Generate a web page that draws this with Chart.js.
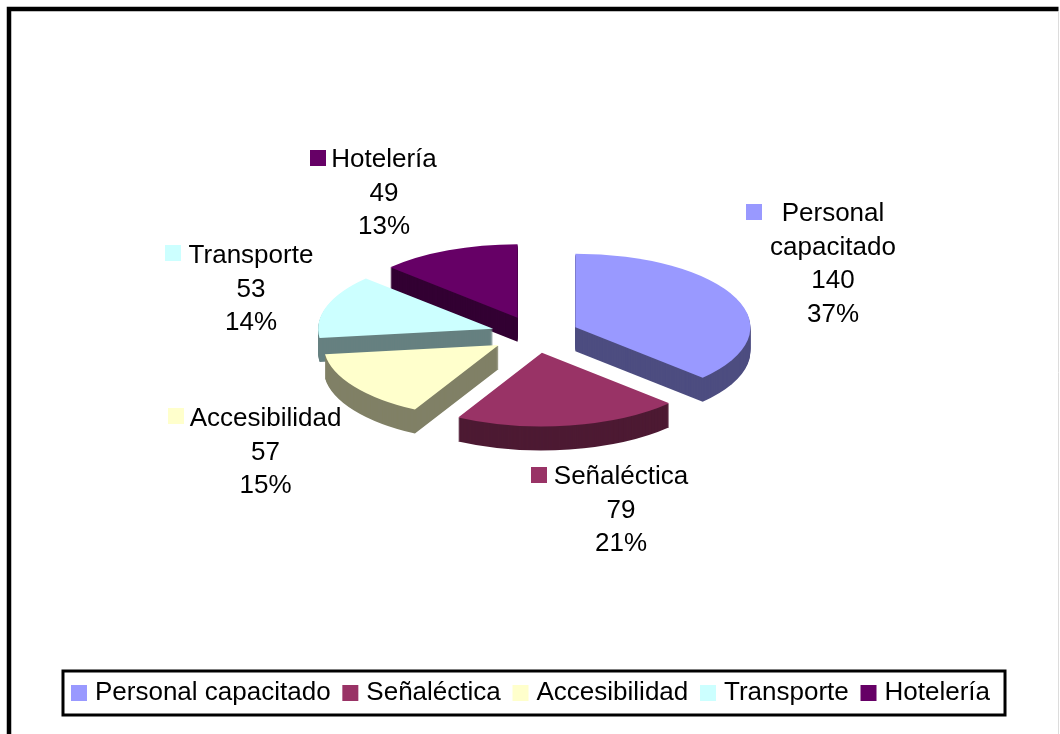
<!DOCTYPE html>
<html><head><meta charset="utf-8">
<style>html,body{margin:0;padding:0;background:#fff}canvas{display:block}</style>
<script src="https://cdn.jsdelivr.net/npm/chart.js@4"></script></head>
<body><canvas id="c" width="1060" height="734"></canvas>
<script>
const categories = ['Personal capacitado','Señaléctica','Accesibilidad','Transporte','Hotelería'];
const values = [140,79,57,53,49];
const percents = ['37%','21%','15%','14%','13%'];
const topColors = ['#9999FF','#993366','#FFFFCC','#CCFFFF','#660066'];
const sideColors = ['#4D4D80','#4D1A33','#808066','#668080','#330033'];
const labelLines = [['Personal','capacitado'],['Señaléctica'],['Accesibilidad'],['Transporte'],['Hotelería']];

const FONT = '"Liberation Sans", Arial, sans-serif';
const tilt = 0.42, depth = 24, pieCenterX = 535, pieCenterY = 334.6, explode = 44, lineH = 33.5;
const drawOrder = [4,0,3,2,1];
// label block layout: centre x, first-line y, key left x, key top y
const labelLayout = [
  {cx:833,y:214,kx:746,ky:204},
  {cx:621,y:477,kx:531,ky:467},
  {cx:265.5,y:419,kx:168,ky:408},
  {cx:251,y:256,kx:165,ky:245},
  {cx:384,y:160,kx:310,ky:150}
];

const tiltedPie = {
  id:'tiltedPie',
  beforeDatasetsDraw(chart){
    const ctx = chart.ctx, arcs = chart.getDatasetMeta(0).data;
    const paint = (el, color, shift) => {
      const saved = el.options;
      const half = (el.startAngle + el.endAngle) / 2;
      el.options = Object.assign({}, saved, {backgroundColor:color, borderWidth:0});
      ctx.save();
      ctx.translate(pieCenterX - el.x, pieCenterY + shift);
      ctx.scale(1, tilt);
      ctx.translate(0, -el.y);
      ctx.translate(el.x, el.y);
      ctx.translate(Math.cos(half)*explode, Math.sin(half)*explode);
      ctx.translate(-el.x, -el.y);
      el.draw(ctx);
      ctx.restore();
      el.options = saved;
    };
    drawOrder.forEach(i => {
      for (let d = depth; d >= 1; d--) paint(arcs[i], sideColors[i], d);
      paint(arcs[i], topColors[i], 0);
    });
    return false;
  },
  afterDraw(chart){
    const ctx = chart.ctx;
    ctx.save();
    // data labels
    ctx.fillStyle = '#000';
    ctx.font = '26px ' + FONT;
    ctx.textAlign = 'center';
    ctx.textBaseline = 'middle';
    categories.forEach((c,i) => {
      const L = labelLayout[i];
      const lines = labelLines[i].concat([String(values[i]), percents[i]]);
      lines.forEach((t,k) => ctx.fillText(t, L.cx, L.y + k*lineH));
      ctx.fillStyle = topColors[i];
      ctx.fillRect(L.kx, L.ky, 16, 16);
      ctx.fillStyle = '#000';
    });
    // legend frame
    const lg = chart.legend, hb = lg.legendHitBoxes;
    const left = hb[0].left - 13, right = hb[hb.length-1].left + hb[hb.length-1].width + 15;
    ctx.strokeStyle = '#000';
    ctx.lineWidth = 3;
    ctx.strokeRect(left, 671, right-left, 44);
    // chart frame
    ctx.lineWidth = 4.5;
    ctx.beginPath();
    ctx.moveTo(9, 734); ctx.lineTo(9, 9); ctx.lineTo(1058.5, 9);
    ctx.stroke();
    ctx.strokeStyle = '#dcdcdc';
    ctx.lineWidth = 1;
    ctx.beginPath();
    ctx.moveTo(1058.5, 11); ctx.lineTo(1058.5, 734);
    ctx.stroke();
    ctx.restore();
  }
};

new Chart(document.getElementById('c'), {
  type:'pie',
  data:{labels:categories, datasets:[{data:values, backgroundColor:topColors, borderWidth:0, radius:175}]},
  plugins:[tiltedPie],
  options:{
    responsive:false, animation:false,
    layout:{padding:{left:6,right:0,top:0,bottom:18}},
    plugins:{
      tooltip:{enabled:false},
      legend:{
        display:true, position:'bottom',
        labels:{
          color:'#000', font:{family:FONT,size:26}, boxWidth:6, boxHeight:6, padding:16.75,
          generateLabels(chart){
            return Chart.overrides.pie.plugins.legend.labels.generateLabels(chart).map((it,i)=>
              Object.assign(it,{strokeStyle:topColors[i],fillStyle:topColors[i],lineWidth:10}));
          }
        }
      }
    }
  }
});
</script></body></html>
